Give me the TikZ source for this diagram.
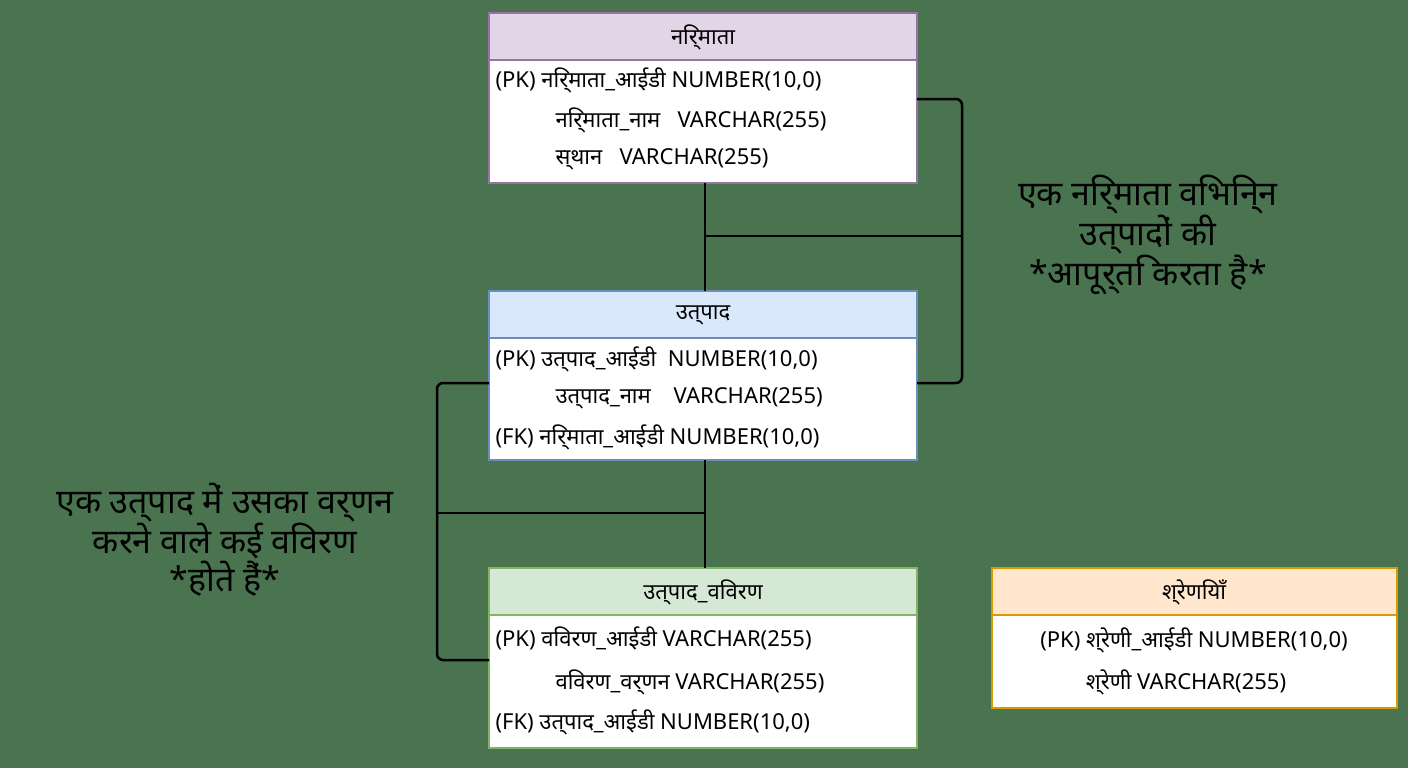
\documentclass[tikz,border=0pt]{standalone}
\usepackage{fontspec}
\setmainfont{Noto Sans}
\begin{document}
\begin{tikzpicture}[x=1pt,y=-1pt,
  hdr/.style={font=\fontsize{22}{24}\selectfont\bfseries},
  row/.style={anchor=west,font=\fontsize{22}{24}\selectfont},
  lbl/.style={align=center,font=\fontsize{34}{38}\selectfont},
  con/.style={line width=2.5pt,rounded corners=6pt}]
\definecolor{bg}{HTML}{4A7350}
\fill[bg] (0,0) rectangle (1408,768);
\useasboundingbox (0,0) rectangle (1408,768);
% tables
\newcommand{\erbox}[7]{%
 \fill[white] (#1,#2) rectangle (#3,#4);
 \fill[#6] (#1,#2) rectangle (#3,#5);
 \draw[#7,line width=1.5pt] (#1,#2) rectangle (#3,#4);
 \draw[#7,line width=1.5pt] (#1,#5) -- (#3,#5);}
\definecolor{pf}{HTML}{E1D5E7}\definecolor{pb}{HTML}{9673A6}
\definecolor{bf}{HTML}{DAE8FC}\definecolor{bb}{HTML}{6C8EBF}
\definecolor{gf}{HTML}{D5E8D4}\definecolor{gb}{HTML}{82B366}
\definecolor{of}{HTML}{FFE6CC}\definecolor{ob}{HTML}{D79B00}
\erbox{489}{13}{917}{183}{60}{pf}{pb}
\erbox{489}{291}{917}{460}{338}{bf}{bb}
\erbox{489}{568}{917}{748}{615}{gf}{gb}
\erbox{992}{568}{1397}{708}{615}{of}{ob}
\node[hdr] (m) at (703,37) {निर्माता};
\node[row] (m1) at (492,80) {(PK) निर्माता\_आईडी NUMBER(10,0)};
\node[row] (m2) at (552,120) {निर्माता\_नाम \ \ VARCHAR(255)};
\node[row] (m3) at (552,159) {स्थान \ \ VARCHAR(255)};
\node[hdr] (u) at (703,315) {उत्पाद};
\node[row] (u1) at (492,359) {(PK) उत्पाद\_आईडी \ NUMBER(10,0)};
\node[row] (u2) at (552,398) {उत्पाद\_नाम \ \ \ VARCHAR(255)};
\node[row] (u3) at (492,437) {(FK) निर्माता\_आईडी NUMBER(10,0)};
\node[hdr] (v) at (703,592) {उत्पाद\_विवरण};
\node[row] (v1) at (492,638) {(PK) विवरण\_आईडी VARCHAR(255)};
\node[row] (v2) at (552,682) {विवरण\_वर्णन VARCHAR(255)};
\node[row] (v3) at (492,722) {(FK) उत्पाद\_आईडी NUMBER(10,0)};
\node[hdr] (s) at (1194,592) {श्रेणियाँ};
\node[font=\fontsize{22}{24}\selectfont] (s1) at (1194,640) {(PK) श्रेणी\_आईडी NUMBER(10,0)};
\node[font=\fontsize{22}{24}\selectfont] (s2) at (1186,682) {श्रेणी VARCHAR(255)};
% connectors
\coordinate (a1) at (705,183); \coordinate (a2) at (705,291);
\coordinate (a3) at (705,236); \coordinate (a4) at (962,236);
\draw[con] (a1) -- (a2);
\draw[con] (a3) -- (a4);
\draw[con] (917,99) -- (962,99) -- (962,383) -- (917,383);
\coordinate (b1) at (705,460); \coordinate (b2) at (705,568);
\coordinate (b3) at (705,513); \coordinate (b4) at (437,513);
\draw[con] (b1) -- (b2);
\draw[con] (b3) -- (b4);
\draw[con] (489,383) -- (437,383) -- (437,660) -- (489,660);
\node[lbl] (l1) at (1148,235) {एक निर्माता विभिन्न\\उत्पादों की\\*आपूर्ति करता है*};
\node[lbl] (l2) at (225,540) {एक उत्पाद में उसका वर्णन\\करने वाले कई विवरण\\*होते हैं*};
\end{tikzpicture}
\end{document}
